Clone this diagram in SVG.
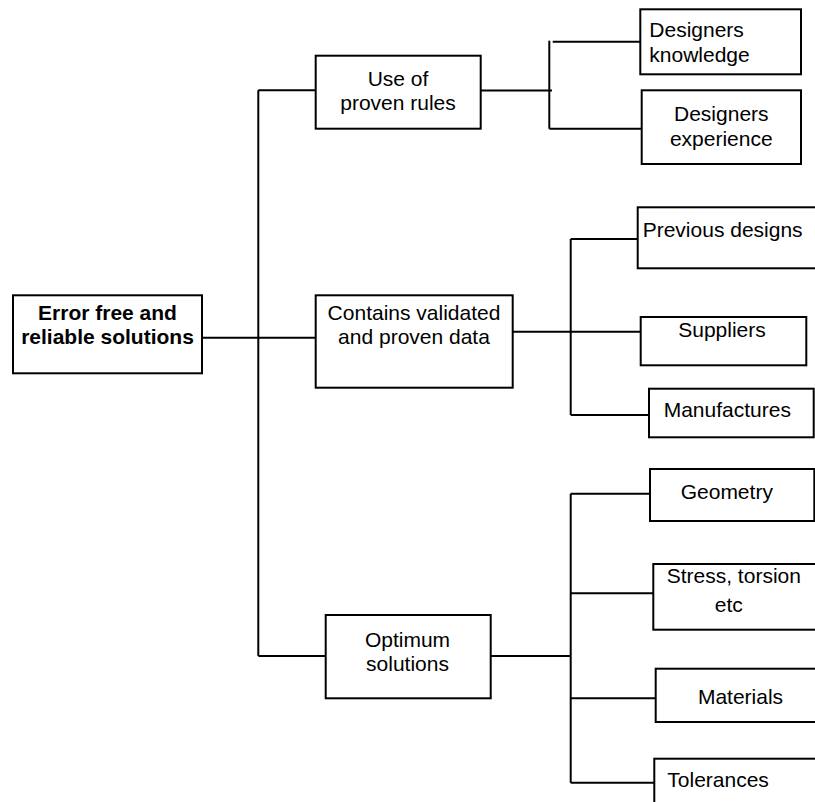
<svg xmlns="http://www.w3.org/2000/svg" width="815" height="802" viewBox="0 0 815 802">
<style>
.box{fill:#fff;stroke:#000;stroke-width:2}
.t{font-family:"Liberation Sans",Arial,sans-serif;font-size:21px;fill:#000}
.c{text-anchor:middle}
.b{font-weight:bold}
.ln{fill:none;stroke:#000;stroke-width:2}
</style>
<rect width="815" height="802" fill="#fff"/>
<g id="connectors" class="ln">
<path d="M202 337.7H315.7"/>
<path d="M258.3 90.3V656"/>
<path d="M258.3 90.3H315.7"/>
<path d="M258.3 656H325.7"/>
<path d="M480.7 90.5H552"/>
<path d="M549.3 40.7V128.7"/>
<path d="M552.7 41.7H642"/>
<path d="M549.3 128.7H641.7"/>
<path d="M512.7 331.7H647.7"/>
<path d="M570.7 239V415"/>
<path d="M570.7 239H637.7"/>
<path d="M570.7 415H649"/>
<path d="M490.7 656H570.7"/>
<path d="M570.7 493.7V782.7"/>
<path d="M570.7 493.7H650"/>
<path d="M570.7 593.3H653.3"/>
<path d="M570.7 698.3H655.7"/>
<path d="M570.7 782.7H654.3"/>
</g>
<g id="root">
<rect class="box" x="13" y="295.3" width="189" height="78"/>
<text class="t c b" x="107.5" y="320">Error free and</text>
<text class="t c b" x="107.5" y="344">reliable solutions</text>
</g>
<g id="use-rules">
<rect class="box" x="315.7" y="55.7" width="165" height="73"/>
<text class="t c" x="398" y="86">Use of</text>
<text class="t c" x="398" y="110">proven rules</text>
</g>
<g id="contains">
<rect class="box" x="315.7" y="295.3" width="197" height="92.4"/>
<text class="t c" x="414" y="320">Contains validated</text>
<text class="t c" x="414" y="344">and proven data</text>
</g>
<g id="optimum">
<rect class="box" x="325.7" y="615" width="165" height="83.3"/>
<text class="t c" x="407.5" y="646.7">Optimum</text>
<text class="t c" x="407.5" y="670.7">solutions</text>
</g>
<g id="designers-knowledge">
<rect class="box" x="640.3" y="9.3" width="160.7" height="65"/>
<text class="t" x="649.3" y="37.3">Designers</text>
<text class="t" x="649.3" y="61.7">knowledge</text>
</g>
<g id="designers-experience">
<rect class="box" x="641.7" y="90.3" width="159.3" height="73.7"/>
<text class="t c" x="721.3" y="120.7">Designers</text>
<text class="t c" x="721.3" y="145.7">experience</text>
</g>
<g id="previous-designs">
<rect class="box" x="637.7" y="207.3" width="190" height="61"/>
<text class="t" x="642.7" y="236.7">Previous designs</text>
</g>
<g id="suppliers">
<rect class="box" x="640.7" y="317" width="165.6" height="48.3"/>
<text class="t c" x="722" y="336.7">Suppliers</text>
</g>
<g id="manufactures">
<rect class="box" x="649" y="388.7" width="164.7" height="48.6"/>
<text class="t" x="663.7" y="417.3">Manufactures</text>
</g>
<g id="geometry">
<rect class="box" x="650" y="469" width="164.3" height="52"/>
<text class="t c" x="726.8" y="499">Geometry</text>
</g>
<g id="stress">
<rect class="box" x="653.3" y="564" width="180" height="65.7"/>
<text class="t" x="666.7" y="583.3">Stress, torsion</text>
<text class="t c" x="728.8" y="612">etc</text>
</g>
<g id="materials">
<rect class="box" x="655.7" y="668.7" width="180" height="53.3"/>
<text class="t c" x="740.5" y="704">Materials</text>
</g>
<g id="tolerances">
<rect class="box" x="654.3" y="758.7" width="180" height="80"/>
<text class="t" x="667.3" y="786.7">Tolerances</text>
</g>
</svg>
